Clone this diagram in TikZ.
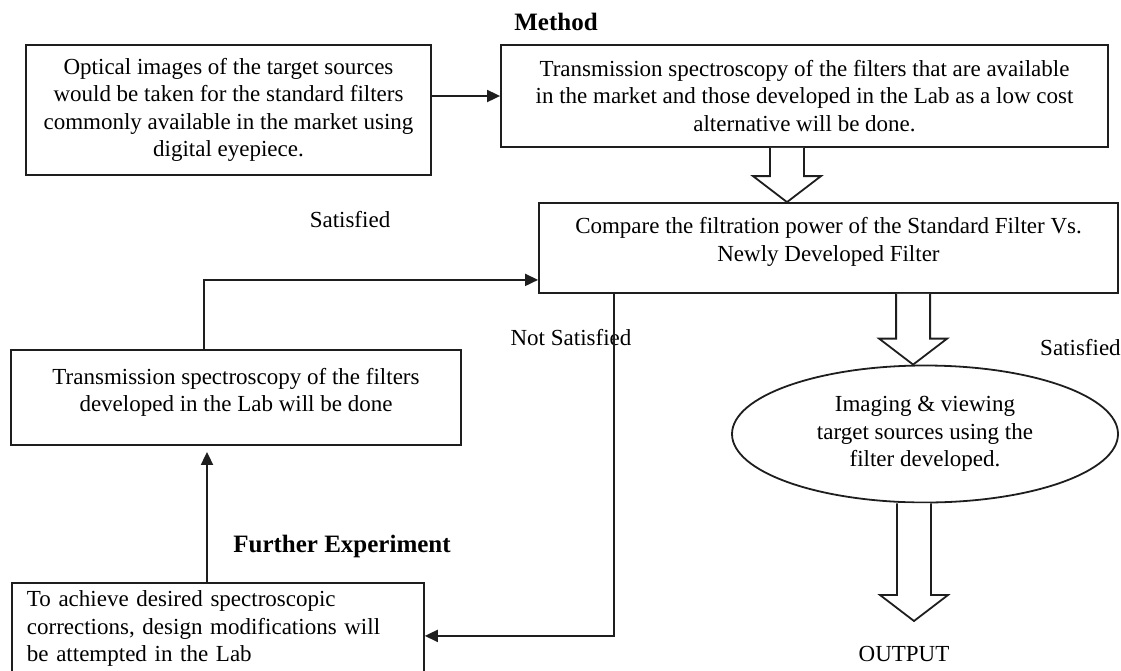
\documentclass[tikz,border=0pt]{standalone}
\usepackage{fontspec}
\setmainfont{Liberation Serif}
\usetikzlibrary{calc, arrows.meta, shapes.geometric}

% Hollow block arrow pointing down, from #1 to the height of #2
\newcommand{\drawFatArrow}[2]{%
    \draw[fatArrow] let \p1=(#1), \p2=(#2) in
        (\x1-17,\y1) -- (\x1-17,\y2+26) -- (\x1-34,\y2+26) -- (\x1,\y2)
        -- (\x1+34,\y2+26) -- (\x1+17,\y2+26) -- (\x1+17,\y1);}

\begin{document}
\begin{tikzpicture}[x=1pt, y=-1pt,
    bodyText/.style={font=\fontsize{23}{27.5}\selectfont},
    headText/.style={font=\bfseries\fontsize{25}{30}\selectfont},
    flowBox/.style={bodyText, draw=borderColour, line width=1.8pt, rectangle, align=center, inner sep=0pt},
    flowArrow/.style={-{Triangle[length=13pt,width=12pt]}, draw=borderColour, line width=1.8pt},
    fatArrow/.style={draw=borderColour, fill=white, line width=1.8pt, line join=miter}]
    % Define colours
    \definecolor{borderColour}{HTML}{1E1E1E}

    % Fix the page size
    \useasboundingbox (0,0) rectangle (1121,670);

    % Draw the process boxes
    \node[flowBox, minimum width=405pt, minimum height=130pt] (optical) at (228.5,110)
        {Optical images of the target sources\\would be taken for the standard filters\\commonly available in the market using\\digital eyepiece.};
    \node[flowBox, minimum width=607pt, minimum height=102pt] (trans) at (804.5,96)
        {Transmission spectroscopy of the filters that are available\\in the market and those developed in the Lab as a low cost\\alternative will be done.};
    \node[flowBox, minimum width=579pt, minimum height=90pt] (comp) at (828.5,248)
        {Compare the filtration power of the Standard Filter Vs.\\Newly Developed Filter\\[-10pt]};
    \node[flowBox, minimum width=450pt, minimum height=95pt] (filt) at (236,397.5)
        {Transmission spectroscopy of the filters\\developed in the Lab will be done\\[-12pt]};
    \node[flowBox, anchor=north west, align=left, text width=382pt, inner xsep=15pt, minimum height=92pt] (modif) at (11,582)
        {To achieve desired spectroscopic\\corrections, design modifications will\\be attempted in the Lab};
    \node[flowBox, ellipse, minimum width=386pt, minimum height=137pt] (img) at (925,434)
        {Imaging \& viewing\\target sources using the\\filter developed.};

    % Label the diagram
    \node[headText] (method) at (556,22) {Method};
    \node[bodyText] (satLeft) at (350,220) {Satisfied};
    \node[bodyText] (notSat) at (571,338) {Not Satisfied};
    \node[bodyText, anchor=west, inner sep=0pt] (satRight) at (1040,348) {Satisfied};
    \node[headText] (further) at (342,546) {Further Experiment};
    \node[bodyText] (output) at (904,654) {OUTPUT};

    % Draw the thin connectors
    \draw[flowArrow] (optical.east |- trans.west) -- (trans.west);
    \draw[flowArrow] ($(filt.north)+(-32,0)$) |- ($(comp.south west)+(0,-14)$);
    \draw[flowArrow] ($(comp.south west)+(76,0)$) |- ($(modif.east)+(0,7)$);
    \coordinate (modifTop) at ($(modif.north west)+(196,0)$);
    \draw[flowArrow, shorten >=6pt] (modifTop) -- (modifTop |- filt.south);

    % Draw the hollow arrows
    \coordinate (outTip) at (914,621);
    \drawFatArrow{$(trans.south)+(-17.5,0)$}{comp.north}
    \drawFatArrow{$(comp.south west)+(375,0)$}{img.north}
    \drawFatArrow{$(img.south)+(-11,0)$}{outTip}

\end{tikzpicture}
\end{document}
